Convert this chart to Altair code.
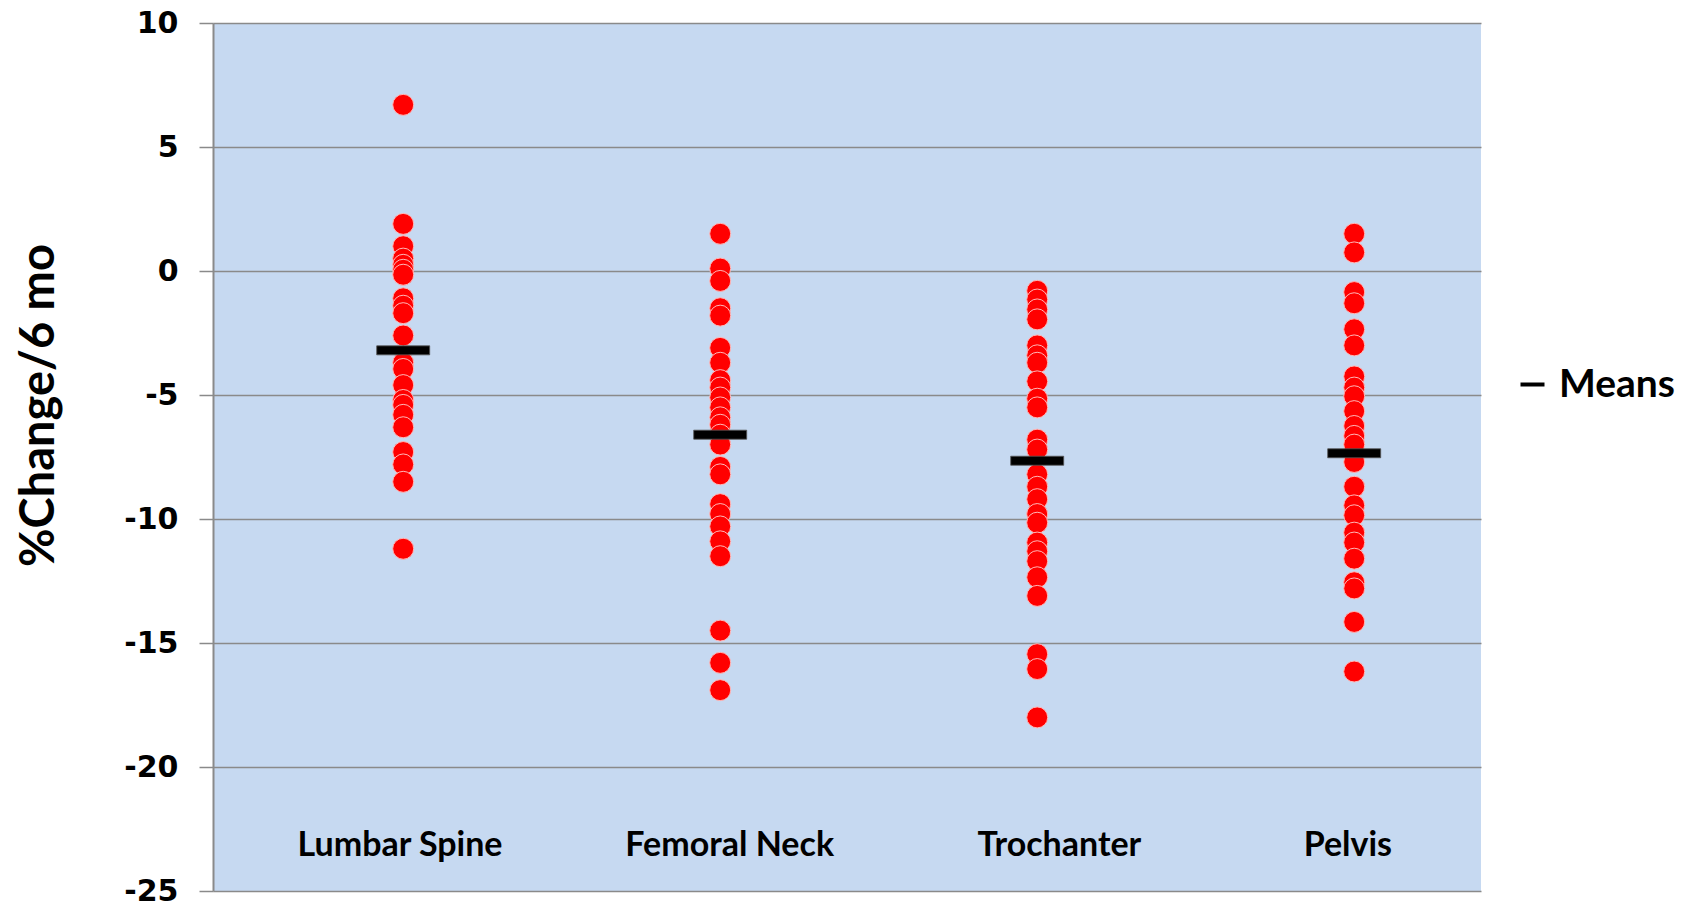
import altair as alt
import pandas as pd

# ---- data ----
categories = ["Lumbar Spine", "Femoral Neck", "Trochanter", "Pelvis"]
category_x = [0.6, 1.6, 2.6, 3.6]          # x position of each column (axis 0..4)
label_x = [0.59, 1.63, 2.67, 3.58]          # x position of each category label
label_y = -23.2                              # data-space y of the category labels

lumbar = [6.7, 1.9, 1.0, 0.5, 0.25, 0.05, -0.15, -1.1, -1.4, -1.7, -2.6,
          -3.7, -3.95, -4.6, -5.2, -5.4, -5.8, -6.3, -7.3, -7.8, -8.5, -11.2]
femoral = [1.5, 0.1, -0.4, -1.5, -1.8, -3.1, -3.7, -4.4, -4.7, -5.1, -5.5,
           -5.9, -6.2, -6.6, -7.0, -7.9, -8.2, -9.4, -9.8, -10.3, -10.9,
           -11.5, -14.5, -15.8, -16.9]
trochanter = [-0.8, -1.15, -1.55, -1.95, -3.0, -3.4, -3.7, -4.45, -5.15,
              -5.5, -6.8, -7.2, -8.2, -8.7, -9.2, -9.8, -10.15, -10.95,
              -11.3, -11.7, -12.35, -13.1, -15.45, -16.05, -18.0]
pelvis = [1.5, 0.75, -0.85, -1.3, -2.35, -3.0, -4.25, -4.7, -5.05, -5.65,
          -6.25, -6.65, -7.0, -7.7, -8.7, -9.45, -9.85, -10.55, -10.95,
          -11.6, -12.55, -12.8, -14.15, -16.15]
means = [-3.2, -6.6, -7.65, -7.35]
y_ticks = [10, 5, 0, -5, -10, -15, -20, -25]
x_ticks = [0.5, 1.0, 1.5, 2.0, 2.5, 3.0, 3.5, 4.0]

series = [lumbar, femoral, trochanter, pelvis]

# ---- tables ----
rows = []
for cat, xv, vals in zip(categories, category_x, series):
    for v in vals:
        rows.append({"category": cat, "x": xv, "value": v})
points_df = pd.DataFrame(rows)
means_df = pd.DataFrame({"category": categories, "x": category_x, "mean": means,
                         "series": ["Means"] * len(categories)})
labels_df = pd.DataFrame({"category": categories, "x": label_x,
                          "y": [label_y] * len(categories)})

GRID = "#8a8a8a"
W, H = 1268, 868
xscale = alt.Scale(domain=[0, 4], nice=False, zero=False)
yscale = alt.Scale(domain=[-25, 10], nice=False, zero=False)

y_axis = alt.Axis(
    values=y_ticks, labelExpr="datum.value + ''",
    labelFont="DejaVu Sans", labelFontWeight="bold", labelFontSize=30,
    labelColor="black", labelPadding=21,
    tickSize=14, tickColor=GRID, tickWidth=1.5,
    domainColor=GRID, domainWidth=2,
    grid=True, gridColor=GRID, gridWidth=1.5,
    title="%Change/6 mo", titleFont="Lato", titleFontSize=47,
    titleFontWeight="bold", titleColor="black",
    titleX=-174, titleY=382, titleAlign="center", titleBaseline="middle",
    titleAngle=270,
)
x_axis = alt.Axis(
    orient="bottom", offset=-(H * 25 / 35), values=x_ticks,
    labels=False, title=None, grid=False,
    domainColor=GRID, domainWidth=1.5, tickColor=GRID, tickWidth=1.5,
    tickSize=8,
)

points = alt.Chart(points_df).mark_circle(
    size=440, fill="#ff0000", stroke="#ffb8b8", strokeWidth=1, opacity=1
).encode(
    x=alt.X("x:Q", scale=xscale, axis=x_axis),
    y=alt.Y("value:Q", scale=yscale, axis=y_axis),
)

mean_ticks = alt.Chart(means_df).mark_tick(
    orient="horizontal", size=53, thickness=9, opacity=1,
    stroke="#555555", strokeWidth=0.8
).encode(
    x=alt.X("x:Q", scale=xscale, axis=None),
    y=alt.Y("mean:Q", scale=yscale),
    color=alt.Color(
        "series:N",
        scale=alt.Scale(domain=["Means"], range=["black"]),
        legend=alt.Legend(
            title=None, orient="none", legendX=1300, legendY=342,
            padding=0, symbolType="stroke", symbolSize=576,
            symbolStrokeWidth=4, symbolStrokeColor="black",
            labelFont="Lato", labelFontSize=39, labelFontWeight="bold",
            labelColor="black", labelOffset=7, labelLimit=300,
        ),
    ),
)

labels = alt.Chart(labels_df).mark_text(
    font="Lato", fontWeight="bold", fontSize=34, color="black",
    align="center", baseline="middle"
).encode(
    x=alt.X("x:Q", scale=xscale, axis=None),
    y=alt.Y("y:Q", scale=yscale),
    text="category:N",
)

chart = alt.layer(points, mean_ticks, labels).properties(
    width=W, height=H, autosize="none",
    padding={"left": 205, "top": 15, "right": 200, "bottom": 11},
    background="white",
).configure_view(stroke=None, fill="#c6d9f1")

chart.save("out.html", embed_options={"renderer": "svg", "actions": False})
